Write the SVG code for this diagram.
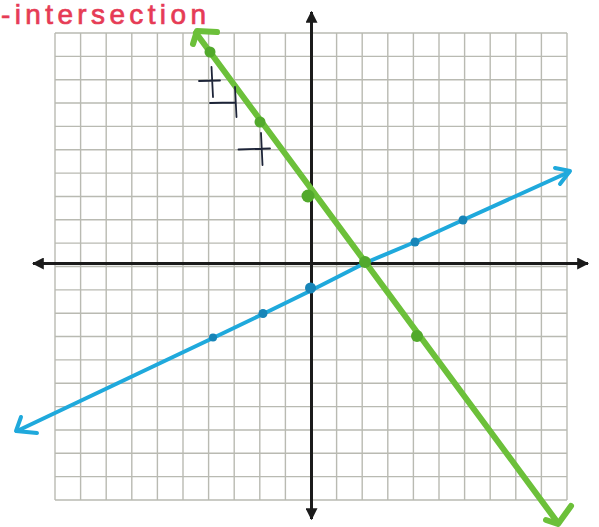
<svg xmlns="http://www.w3.org/2000/svg" width="599" height="527" viewBox="0 0 599 527">
<style>
.grid line{stroke:#b9bab2;stroke-width:1.4}
.axis{stroke:#1b1b1b;stroke-width:3;fill:none}
.green{stroke:#6cc03a;stroke-width:6;fill:none;stroke-linecap:round;stroke-linejoin:round}
.blue{stroke:#1fa9dc;stroke-width:4;fill:none;stroke-linecap:round;stroke-linejoin:round}
.gdot{fill:#52a92c}
.bdot{fill:#1785b8}
.mark{stroke:#1d2438;stroke-width:1.8;fill:none;stroke-linecap:round}
.label{font-family:"Liberation Sans","DejaVu Sans",sans-serif;font-size:28px;fill:#e63b55;stroke:#e63b55;stroke-width:0.7}
</style>
<defs>
<marker id="ah" viewBox="0 0 10 10" refX="9" refY="5" markerWidth="4" markerHeight="4" orient="auto-start-reverse" markerUnits="strokeWidth">
<path d="M0,0 L10,5 L0,10 Z" fill="#1b1b1b"/>
</marker>
</defs>
<rect width="599" height="527" fill="#ffffff"/>
<g id="grid" class="grid">
<line x1="55" y1="33" x2="55" y2="500"/><line x1="80.6" y1="33" x2="80.6" y2="500"/><line x1="106.2" y1="33" x2="106.2" y2="500"/><line x1="131.8" y1="33" x2="131.8" y2="500"/><line x1="157.4" y1="33" x2="157.4" y2="500"/><line x1="183" y1="33" x2="183" y2="500"/><line x1="208.6" y1="33" x2="208.6" y2="500"/><line x1="234.2" y1="33" x2="234.2" y2="500"/><line x1="259.8" y1="33" x2="259.8" y2="500"/><line x1="285.4" y1="33" x2="285.4" y2="500"/><line x1="311" y1="33" x2="311" y2="500"/><line x1="336.6" y1="33" x2="336.6" y2="500"/><line x1="362.2" y1="33" x2="362.2" y2="500"/><line x1="387.8" y1="33" x2="387.8" y2="500"/><line x1="413.4" y1="33" x2="413.4" y2="500"/><line x1="439" y1="33" x2="439" y2="500"/><line x1="464.6" y1="33" x2="464.6" y2="500"/><line x1="490.2" y1="33" x2="490.2" y2="500"/><line x1="515.8" y1="33" x2="515.8" y2="500"/><line x1="541.4" y1="33" x2="541.4" y2="500"/><line x1="567" y1="33" x2="567" y2="500"/>
<line x1="55" y1="33" x2="567" y2="33"/><line x1="55" y1="56.35" x2="567" y2="56.35"/><line x1="55" y1="79.7" x2="567" y2="79.7"/><line x1="55" y1="103.05" x2="567" y2="103.05"/><line x1="55" y1="126.4" x2="567" y2="126.4"/><line x1="55" y1="149.75" x2="567" y2="149.75"/><line x1="55" y1="173.1" x2="567" y2="173.1"/><line x1="55" y1="196.45" x2="567" y2="196.45"/><line x1="55" y1="219.8" x2="567" y2="219.8"/><line x1="55" y1="243.15" x2="567" y2="243.15"/><line x1="55" y1="266.5" x2="567" y2="266.5"/><line x1="55" y1="289.85" x2="567" y2="289.85"/><line x1="55" y1="313.2" x2="567" y2="313.2"/><line x1="55" y1="336.55" x2="567" y2="336.55"/><line x1="55" y1="359.9" x2="567" y2="359.9"/><line x1="55" y1="383.25" x2="567" y2="383.25"/><line x1="55" y1="406.6" x2="567" y2="406.6"/><line x1="55" y1="429.95" x2="567" y2="429.95"/><line x1="55" y1="453.3" x2="567" y2="453.3"/><line x1="55" y1="476.65" x2="567" y2="476.65"/><line x1="55" y1="500" x2="567" y2="500"/>
</g>
<g id="connectors">
<g id="x-axis"><line class="axis" x1="33" y1="263.5" x2="588" y2="263.5" marker-start="url(#ah)" marker-end="url(#ah)"/></g>
<g id="y-axis"><line class="axis" x1="311.5" y1="12" x2="311.5" y2="519" marker-start="url(#ah)" marker-end="url(#ah)"/></g>
<g id="green-line">
<path class="green" d="M196,33 L558,523"/>
<path class="green" d="M217,32 L197,31 L193,44"/>
<path class="green" d="M546,520 L558,524 L571,506"/>
</g>
<g id="blue-line">
<path class="blue" d="M17,431 L213,338 L263,314 L310,291 L365,263 L415,242 L463,220 L569,172"/>
<path class="blue" d="M21,417 L16,431 L37,433"/>
<path class="blue" d="M555,168 L570,171 L560,184"/>
</g>
</g>
<g id="green-points">
<circle class="gdot" cx="210" cy="52" r="5.5"/>
<circle class="gdot" cx="260" cy="122" r="5.5"/>
<circle class="gdot" cx="308" cy="196" r="6.5"/>
<circle class="gdot" cx="365" cy="262" r="6"/>
<circle class="gdot" cx="417" cy="336" r="6"/>
</g>
<g id="blue-points">
<circle class="bdot" cx="213" cy="337.5" r="4"/>
<circle class="bdot" cx="263" cy="313.5" r="4.5"/>
<circle class="bdot" cx="310.5" cy="288" r="5.5"/>
<circle class="bdot" cx="415" cy="242" r="4.5"/>
<circle class="bdot" cx="463" cy="220" r="4.5"/>
</g>
<g id="slope-marks">
<path class="mark" d="M211.5,67 L213,97 M199,81 L220,80.5"/>
<path class="mark" d="M210,103 L235,102.5 M235,87 L236.5,117"/>
<path class="mark" d="M261,133 L262.5,165 M238.5,149.5 L270,148.5"/>
</g>
<g id="title">
<text class="label" x="1" y="24" textLength="205" lengthAdjust="spacing">-intersection</text>
</g>
</svg>
